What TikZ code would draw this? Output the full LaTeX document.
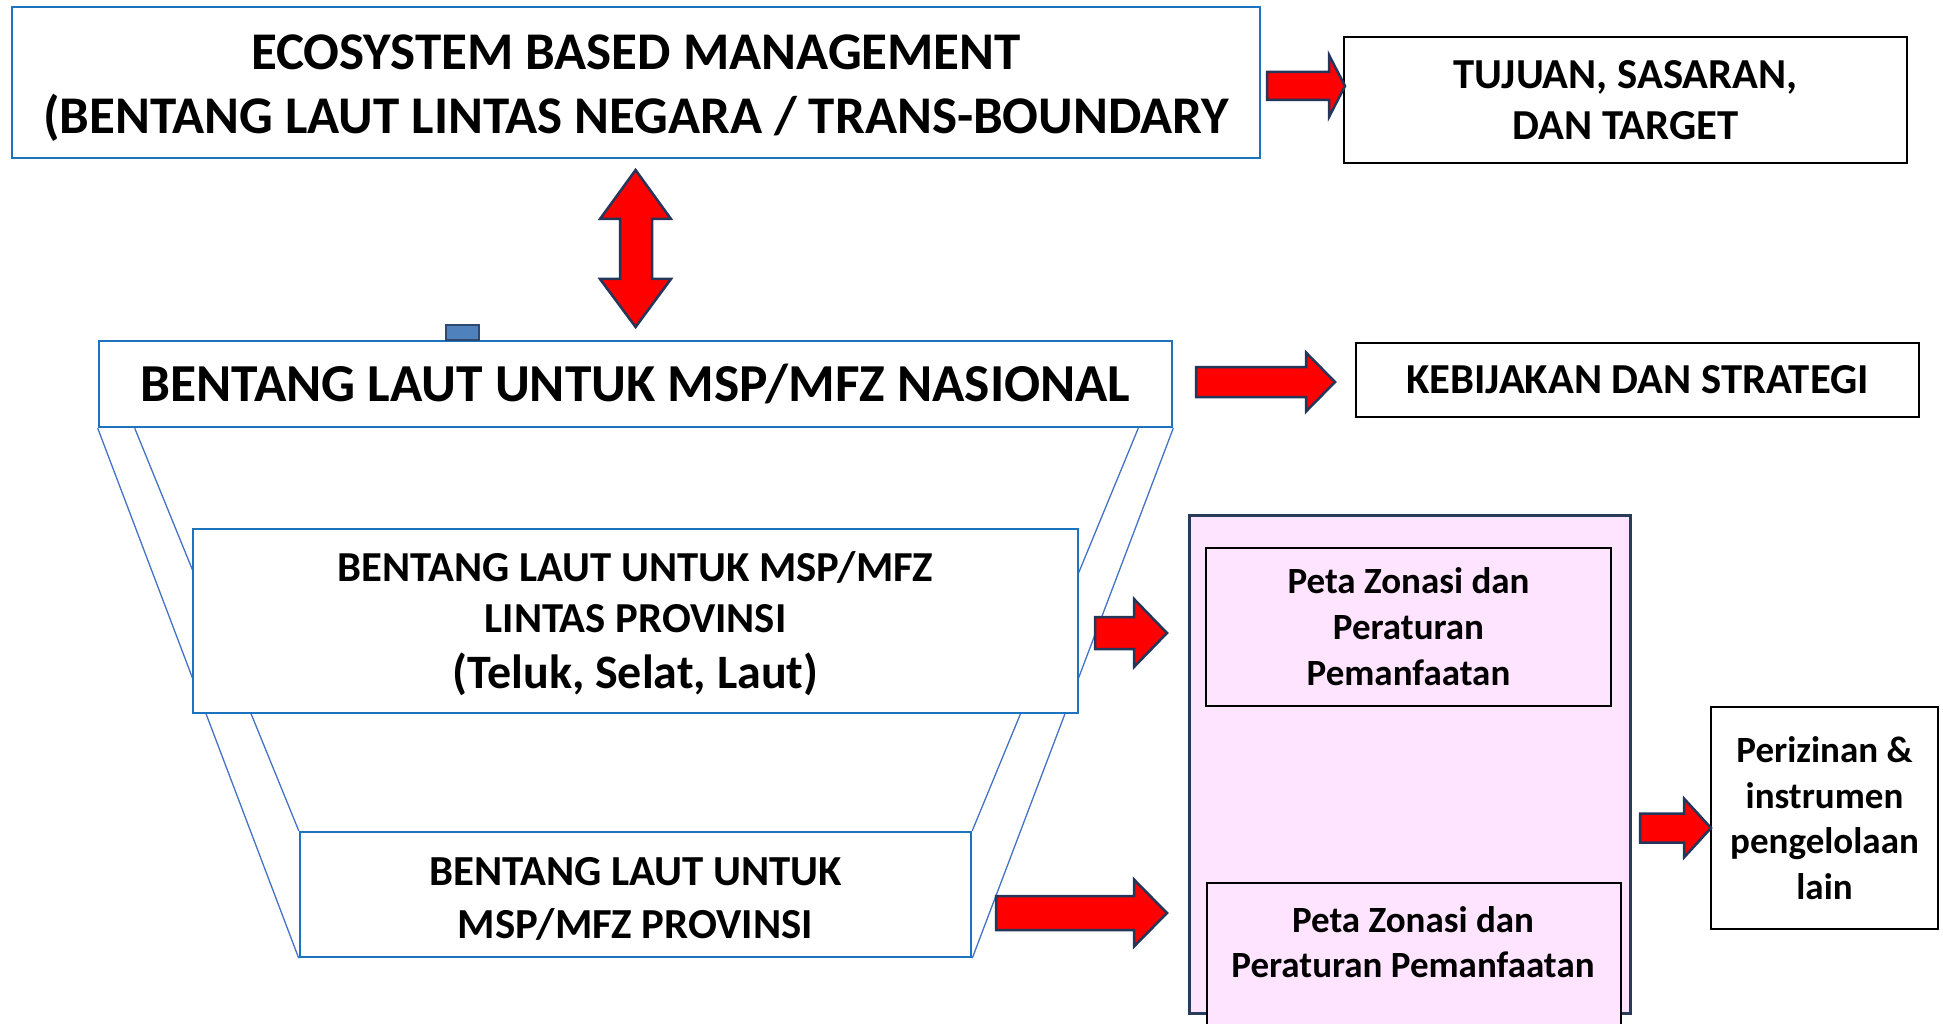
\documentclass[tikz,border=0pt]{standalone}
\usepackage{fontspec}
\setmainfont{Carlito}
\usetikzlibrary{calc}
\definecolor{boxblue}{RGB}{30,115,190}
\definecolor{trapblue}{RGB}{68,114,196}
\definecolor{arrowedge}{RGB}{36,54,90}
\definecolor{pinkfill}{RGB}{255,228,255}
\definecolor{pinkedge}{RGB}{40,60,90}
\definecolor{sqfill}{RGB}{79,129,189}
\definecolor{sqedge}{RGB}{47,72,110}
\pgfdeclarelayer{bg}
\pgfsetlayers{bg,main}
\newcommand{\blockarrowR}[6]{% xstart, xheadbase, xtip, y, bodyhalf, headhalf
  \draw[barrow] (#1,#4-#5) -- (#2,#4-#5) -- (#2,#4-#6) -- (#3,#4) -- (#2,#4+#6) -- (#2,#4+#5) -- (#1,#4+#5) -- cycle;}
\begin{document}
\begin{tikzpicture}[x=1pt,y=-1pt,
  bluebox/.style={draw=boxblue, line width=2.5pt, fill=white, align=center, inner sep=0pt},
  blackbox/.style={draw=black, line width=2pt, fill=white, align=center, inner sep=0pt},
  pinkin/.style={draw=black, line width=2pt, fill=pinkfill, align=center, inner sep=0pt},
  trap/.style={draw=trapblue, line width=1.3pt},
  barrow/.style={fill=red, draw=arrowedge, line width=2.5pt, line join=miter},
  txt/.style={align=center, inner sep=0pt}
]
\useasboundingbox (0,0) rectangle (1943,1024);
\clip (0,0) rectangle (1943,1024);

% main blue boxes
\node[bluebox, minimum width=1248pt, minimum height=151pt] (ebm) at (636,82.5) {};
\node[txt, font=\fontsize{53}{64}\selectfont\bfseries] (ebmt) at (636,88)
  {ECOSYSTEM BASED MANAGEMENT\\(BENTANG LAUT LINTAS NEGARA / TRANS-BOUNDARY};
\node[bluebox, minimum width=1073pt, minimum height=86pt,
  font=\fontsize{53.4}{60}\selectfont\bfseries] (nas) at (635.5,384)
  {BENTANG LAUT UNTUK MSP/MFZ NASIONAL};
\node[bluebox, minimum width=885pt, minimum height=184pt] (lin) at (635.5,621) {};
\node[txt, font=\fontsize{42.7}{51}\selectfont\bfseries] (lint) at (635.5,624)
  {BENTANG LAUT UNTUK MSP/MFZ\\LINTAS PROVINSI\\[5pt]{\fontsize{48}{58}\selectfont (Teluk, Selat, Laut)}};
\node[bluebox, minimum width=671pt, minimum height=125pt] (prov) at (635.5,894.5) {};
\node[txt, font=\fontsize{42.8}{53}\selectfont\bfseries] (provt) at (635.5,898.5)
  {BENTANG LAUT UNTUK\\MSP/MFZ PROVINSI};

% funnel lines behind the boxes
\begin{pgfonlayer}{bg}
  \draw[trap] (nas.south west) -- (prov.south west);
  \draw[trap] (nas.south east) -- (prov.south east);
  \draw[trap] ($(nas.south west)+(37,0)$) -- (prov.north west);
  \draw[trap] ($(nas.south east)+(-35,0)$) -- (prov.north east);
\end{pgfonlayer}

% small square on NASIONAL box
\node[draw=sqedge, fill=sqfill, line width=2pt, minimum width=33pt, minimum height=15pt,
  inner sep=0pt, anchor=south west] (sq) at (445,341) {};

% right-hand black boxes
\node[blackbox, minimum width=563pt, minimum height=126pt,
  font=\fontsize{42.7}{51}\selectfont\bfseries] (tuj) at (1625.5,100)
  {TUJUAN, SASARAN,\\DAN TARGET};
\node[blackbox, minimum width=563pt, minimum height=74pt,
  font=\fontsize{42.7}{52}\selectfont\bfseries] (keb) at (1637.5,380)
  {KEBIJAKAN DAN STRATEGI};

% pink container
\node[draw=pinkedge, fill=pinkfill, line width=3pt, minimum width=441pt, minimum height=498pt,
  inner sep=0pt] (pink) at (1409.5,764) {};
\node[pinkin, minimum width=405pt, minimum height=158pt,
  font=\fontsize{37}{46}\selectfont\bfseries] (pz1) at (1408.5,627)
  {Peta Zonasi dan\\Peraturan\\Pemanfaatan};
\node[pinkin, minimum width=414pt, minimum height=170pt, anchor=north west] (pz2) at (1206,882) {};
\node[txt, font=\fontsize{37}{45}\selectfont\bfseries] (pz2t) at (1413,942)
  {Peta Zonasi dan\\Peraturan Pemanfaatan};

\node[blackbox, minimum width=227pt, minimum height=222pt,
  font=\fontsize{37}{45.5}\selectfont\bfseries] (per) at (1824.5,818)
  {Perizinan \&\\instrumen\\pengelolaan\\lain};

% block arrows
\blockarrowR{1267}{1329}{1345}{86}{14}{31}
\blockarrowR{1196}{1306}{1335}{382}{15}{29.5}
\blockarrowR{1095}{1134}{1167}{633}{16}{34}
\blockarrowR{996}{1134}{1167}{913}{17}{33.5}
\blockarrowR{1640}{1684}{1711}{828}{14.5}{29.5}

% double vertical arrow
\draw[barrow] (635.6,170) -- (671,219) -- (652,219) -- (652,279) -- (671,279) -- (635.6,327)
  -- (600,279) -- (620,279) -- (620,219) -- (600,219) -- cycle;
\end{tikzpicture}
\end{document}
